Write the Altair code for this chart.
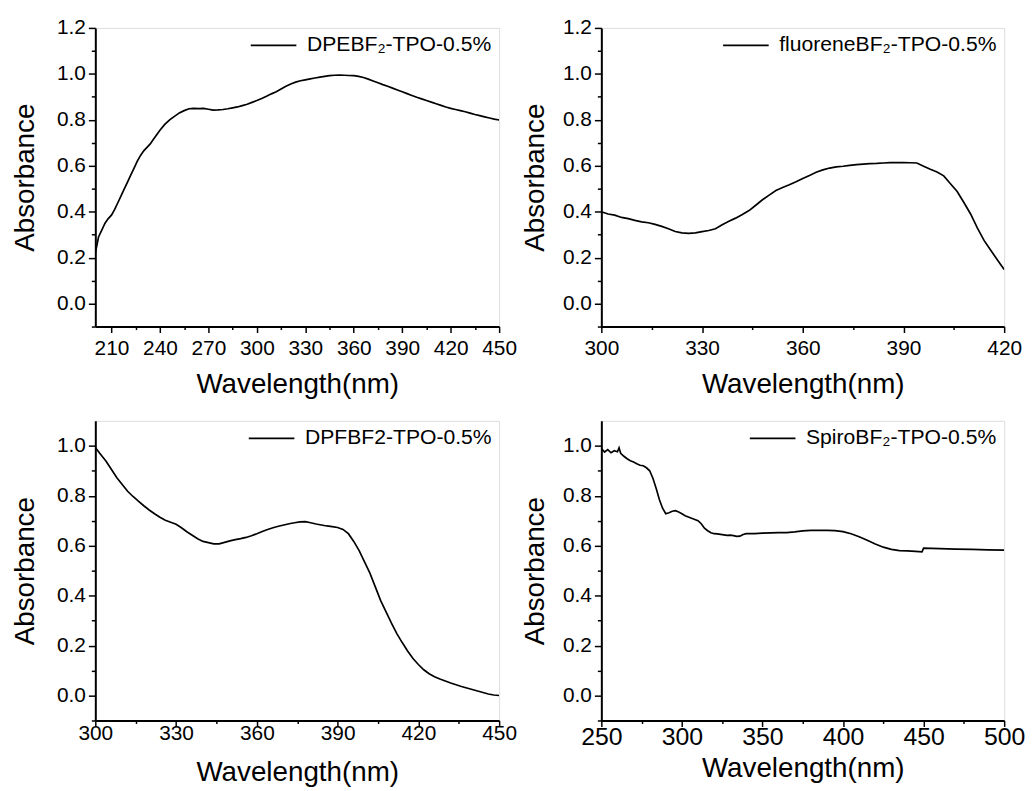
import altair as alt
import pandas as pd

FONT = "Liberation Sans"

# ---- Panel 1: DPEBF2-TPO-0.5%
wl1 = [200, 202, 204, 206, 208, 210, 212, 214, 216, 218, 220, 222, 224, 226, 228, 230, 232, 234, 236, 238,
       240, 243, 246, 249, 252, 255, 258, 261, 264, 267, 270, 273, 276, 279, 282, 285, 288, 291, 294, 297,
       300, 303, 306, 309, 312, 315, 318, 321, 324, 327, 330, 333, 336, 339, 342, 345, 348, 351, 354, 357,
       360, 363, 366, 369, 372, 375, 378, 381, 384, 387, 390, 393, 396, 399, 402, 405, 408, 411, 414, 417,
       420, 423, 426, 429, 432, 435, 438, 441, 444, 447, 450]
ab1 = [0.22, 0.29, 0.32, 0.35, 0.37, 0.385, 0.41, 0.44, 0.47, 0.50, 0.53, 0.56, 0.59, 0.62, 0.645, 0.665, 0.68, 0.695, 0.715, 0.735,
       0.755, 0.78, 0.80, 0.815, 0.83, 0.84, 0.848, 0.85, 0.849, 0.85, 0.846, 0.842, 0.843, 0.845, 0.848, 0.852, 0.856, 0.862, 0.868, 0.876,
       0.884, 0.893, 0.903, 0.913, 0.922, 0.934, 0.946, 0.956, 0.964, 0.97, 0.974, 0.978, 0.982, 0.986, 0.989, 0.992, 0.994, 0.995, 0.994, 0.993,
       0.992, 0.989, 0.984, 0.977, 0.969, 0.961, 0.953, 0.946, 0.938, 0.93, 0.922, 0.914, 0.906, 0.898, 0.891, 0.884, 0.877, 0.87, 0.863, 0.856,
       0.85, 0.845, 0.84, 0.835, 0.829, 0.823, 0.818, 0.813, 0.808, 0.803, 0.799]

# ---- Panel 2: fluoreneBF2-TPO-0.5%
wl2 = [300, 302, 304, 306, 308, 310, 312, 314, 316, 318, 320, 322, 324, 326, 328, 330, 332, 334, 336, 338,
       340, 342, 344, 346, 348, 350, 352, 354, 356, 358, 360, 362, 364, 366, 368, 370, 372, 374, 376, 378,
       380, 382, 384, 386, 388, 390, 392, 394, 396, 398, 400, 402, 404, 406, 408, 410, 412, 414, 416, 418, 420]
ab2 = [0.40, 0.39, 0.385, 0.375, 0.37, 0.362, 0.356, 0.352, 0.345, 0.336, 0.326, 0.314, 0.308, 0.306, 0.308, 0.313, 0.318, 0.326, 0.343, 0.358,
       0.372, 0.388, 0.405, 0.428, 0.452, 0.472, 0.492, 0.505, 0.517, 0.53, 0.545, 0.558, 0.572, 0.582, 0.59, 0.595, 0.598, 0.602, 0.605, 0.607,
       0.609, 0.61, 0.612, 0.614, 0.614, 0.614, 0.613, 0.612, 0.598, 0.585, 0.573, 0.556, 0.522, 0.488, 0.44, 0.39, 0.33, 0.275, 0.232, 0.19, 0.148]

# ---- Panel 3: DPFBF2-TPO-0.5%
wl3 = [300, 302, 304, 306, 308, 310, 312, 314, 316, 318, 320, 322, 324, 326, 328, 330, 332, 334, 336, 338,
       340, 342, 344, 346, 348, 350, 352, 354, 356, 358, 360, 362, 364, 366, 368, 370, 372, 374, 376, 378,
       380, 382, 384, 386, 388, 390, 392, 394, 396, 398, 400, 402, 404, 406, 408, 410, 412, 414, 416, 418,
       420, 422, 424, 426, 428, 430, 432, 434, 436, 438, 440, 442, 444, 446, 448, 450]
ab3 = [0.993, 0.965, 0.938, 0.905, 0.872, 0.845, 0.818, 0.797, 0.778, 0.76, 0.743, 0.728, 0.714, 0.702, 0.694, 0.686, 0.672, 0.656, 0.642, 0.628,
       0.617, 0.612, 0.607, 0.607, 0.613, 0.619, 0.624, 0.628, 0.633, 0.64, 0.648, 0.657, 0.665, 0.672, 0.678, 0.683, 0.688, 0.692, 0.695, 0.696,
       0.692, 0.687, 0.683, 0.679, 0.676, 0.673, 0.665, 0.648, 0.617, 0.58, 0.535, 0.49, 0.435, 0.38, 0.335, 0.29, 0.248, 0.212, 0.178, 0.148,
       0.124, 0.103, 0.087, 0.075, 0.066, 0.058, 0.05, 0.043, 0.036, 0.03, 0.024, 0.018, 0.012, 0.006, 0.002, 0.0]

# ---- Panel 4: SpiroBF2-TPO-0.5%
wl4 = [250, 252, 254, 256, 258, 260, 261, 262, 264, 266, 268, 270, 272, 274, 276, 278, 280, 282, 284, 286,
       288, 290, 292, 294, 296, 298, 300, 302, 304, 306, 308, 310, 312, 314, 316, 318, 320, 322, 324, 326,
       328, 330, 332, 334, 336, 338, 340, 345, 350, 355, 360, 365, 370, 375, 380, 385, 390, 395, 400, 405,
       410, 415, 420, 425, 430, 435, 440, 445, 449, 450, 455, 460, 470, 480, 490, 500]
ab4 = [0.99, 0.975, 0.985, 0.972, 0.98, 0.976, 0.992, 0.97, 0.958, 0.948, 0.94, 0.935, 0.928, 0.922, 0.92, 0.912, 0.9, 0.87, 0.83, 0.785,
       0.75, 0.728, 0.732, 0.738, 0.74, 0.735, 0.728, 0.72, 0.715, 0.71, 0.705, 0.7, 0.688, 0.67, 0.66, 0.652, 0.648, 0.647, 0.645, 0.643,
       0.641, 0.642, 0.64, 0.637, 0.638, 0.645, 0.648, 0.648, 0.65, 0.651, 0.652, 0.652, 0.655, 0.659, 0.661, 0.661, 0.661, 0.66, 0.656, 0.648,
       0.636, 0.622, 0.607, 0.594, 0.585, 0.58, 0.579, 0.577, 0.575, 0.59, 0.589, 0.588, 0.586, 0.585, 0.583, 0.582]

names = ["DPEBF\u2082-TPO-0.5%", "fluoreneBF\u2082-TPO-0.5%", "DPFBF2-TPO-0.5%", "SpiroBF\u2082-TPO-0.5%"]

# axis tick values: major (labelled) and minor
xmaj1 = [210, 240, 270, 300, 330, 360, 390, 420, 450]
xmin1 = [225, 255, 285, 315, 345, 375, 405, 435]
xmaj2 = [300, 330, 360, 390, 420]
xmin2 = [315, 345, 375, 405]
xmaj3 = [300, 330, 360, 390, 420, 450]
xmin3 = [315, 345, 375, 405, 435]
xmaj4 = [250, 300, 350, 400, 450, 500]
xmin4 = [275, 325, 375, 425, 475]
ymaj_top = [0.0, 0.2, 0.4, 0.6, 0.8, 1.0, 1.2]
ymin_top = [-0.1, 0.1, 0.3, 0.5, 0.7, 0.9, 1.1]
ymaj_bot = [0.0, 0.2, 0.4, 0.6, 0.8, 1.0]
ymin_bot = [-0.1, 0.1, 0.3, 0.5, 0.7, 0.9]

AX = dict(grid=False, tickColor="black", tickWidth=1.5, labelColor="black", titleColor="black",
          labelFont=FONT, titleFont=FONT, labelOverlap=False, labelFlush=False)


def panel(wl, ab, name, xdom, ydom, xmaj, xmin, ymaj, ymin, w, h,
          xlab_size=21, xlab_pad=5, xtitle_pad=12, ytitle_pad=17):
    df = pd.DataFrame({"Wavelength": wl, "Absorbance": ab, "series": name})
    xs = alt.Scale(domain=xdom, nice=False, zero=False)
    ys = alt.Scale(domain=ydom, nice=False, zero=False)
    xaxis = alt.Axis(values=xmaj, title="Wavelength(nm)", format="d", orient="bottom",
                     tickSize=6, labelFontSize=xlab_size, labelPadding=xlab_pad,
                     titleFontSize=28, titleFontWeight="normal", titlePadding=xtitle_pad,
                     domainColor="black", domainWidth=2, **AX)
    yaxis = alt.Axis(values=ymaj, title="Absorbance", format=".1f", orient="left",
                     tickSize=7, labelFontSize=21, labelPadding=3,
                     titleFontSize=28, titleFontWeight="normal", titlePadding=ytitle_pad,
                     domainColor="black", domainWidth=2, **AX)
    xaxis_minor = alt.Axis(values=xmin, title=None, labels=False, domain=False, orient="bottom",
                           tickSize=3, **AX)
    yaxis_minor = alt.Axis(values=ymin, title=None, labels=False, domain=False, orient="left",
                           tickSize=4, **AX)
    legend = alt.Legend(orient="top-right", title=None, symbolType="M-3,0H3",
                        symbolSize=235, symbolStrokeWidth=1.8, symbolStrokeColor="black",
                        symbolFillColor="transparent", labelFontSize=21.3,
                        labelFont=FONT, labelColor="black", labelLimit=400,
                        offset=7, padding=0, labelOffset=23)
    base = alt.Chart(df)
    main = base.mark_line(strokeWidth=1.7, clip=True).encode(
        x=alt.X("Wavelength:Q", scale=xs, axis=xaxis),
        y=alt.Y("Absorbance:Q", scale=ys, axis=yaxis),
        color=alt.Color("series:N", scale=alt.Scale(range=["black"]), legend=legend),
    )
    minor = base.mark_line(opacity=0, clip=True).encode(
        x=alt.X("Wavelength:Q", scale=xs, axis=xaxis_minor),
        y=alt.Y("Absorbance:Q", scale=ys, axis=yaxis_minor),
    )
    return alt.layer(main, minor).resolve_scale(x="independent", y="independent").resolve_axis(
        x="independent", y="independent").properties(width=w, height=h)


p1 = panel(wl1, ab1, names[0], [200, 450], [-0.1, 1.2], xmaj1, xmin1, ymaj_top, ymin_top, 407, 301,
           ytitle_pad=17)
p2 = panel(wl2, ab2, names[1], [300, 420], [-0.1, 1.2], xmaj2, xmin2, ymaj_top, ymin_top, 406, 301,
           ytitle_pad=13)
p3 = panel(wl3, ab3, names[2], [300, 450], [-0.1, 1.1], xmaj3, xmin3, ymaj_bot, ymin_bot, 407, 302,
           xlab_pad=-3.5, xtitle_pad=15, ytitle_pad=17)
p4 = panel(wl4, ab4, names[3], [250, 500], [-0.1, 1.1], xmaj4, xmin4, ymaj_bot, ymin_bot, 406, 302,
           xlab_size=25, xlab_pad=-1.5, xtitle_pad=5, ytitle_pad=13)

chart = alt.concat(p1, p2, p3, p4, columns=2, spacing={"row": 95, "column": 103}, bounds="flush").resolve_scale(
    color="independent"
).properties(
    padding={"left": 3, "top": 5, "right": 0, "bottom": 0}
).configure_view(stroke="black", strokeWidth=2).configure(font=FONT, background="white")

chart.save("out.html", embed_options={"renderer": "svg", "actions": False})
